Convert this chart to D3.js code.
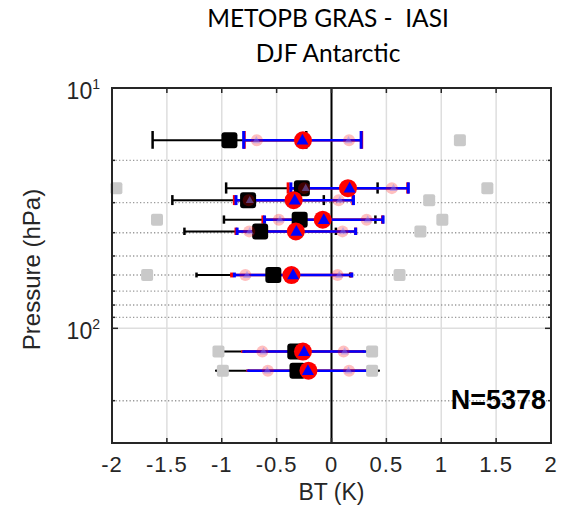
<!DOCTYPE html>
<html>
<head>
<meta charset="utf-8">
<script src="https://cdn.jsdelivr.net/npm/d3@7"></script>
<style>
  html, body { margin: 0; padding: 0; background: #fff; }
  svg { display: block; }
</style>
</head>
<body>
<svg id="chart" width="567" height="507"></svg>
<script>
// ---------------- data ----------------
const titleLines = ["METOPB GRAS -  IASI", "DJF Antarctic"];
const xTicks = [-2, -1.5, -1, -0.5, 0, 0.5, 1, 1.5, 2];
const yMajorTicks = [10, 100];
const yMinorTicks = [20, 30, 40, 50, 60, 70, 80, 90, 200];
const pressure  = [16.5, 26.1, 29.3, 35.3, 39.5, 60, 125, 150];
// black squares (mean), black error bars, grey squares (mean +/- spread)
const blackMean = [-0.93, -0.27, -0.76, -0.29, -0.65, -0.53, -0.33, -0.31];
const blackErr  = [0.70, 0.69, 0.69, 0.69, 0.69, 0.70, 0.72, 0.74];
const blackSd   = [2.10, 1.69, 1.65, 1.30, 1.46, 1.15, 0.70, 0.68];
// red circles
const redMean = [-0.26, 0.15, -0.345, -0.08, -0.325, -0.365, -0.26, -0.21];
const redErr  = [0.535, 0.545, 0.54, 0.545, 0.545, 0.545, 0.55, 0.555];
const redSd   = [0.42, 0.40, 0.41, 0.40, 0.425, 0.42, 0.37, 0.37];
// blue triangles
const blueMean = [-0.265, 0.165, -0.335, -0.07, -0.32, -0.35, -0.25, -0.215];
const blueErr  = [0.535, 0.535, 0.535, 0.54, 0.54, 0.535, 0.55, 0.545];
const blueSd   = [0.42, 0.40, 0.41, 0.40, 0.425, 0.42, 0.37, 0.37];
const nLabel = "N=5378";

// ---------------- layout ----------------
const L = 112, R = 551, T = 88, B = 443;
const svg = d3.select("#chart");
const x = d3.scaleLinear().domain([-2, 2]).range([L, R]);
const y = d3.scaleLog().domain([10, 300]).range([T, B]);
const capDelta = 1.4; // cap half-height in hPa (data units)

const rows = pressure.map((p, i) => ({
  p, bm: blackMean[i], be: blackErr[i], bs: blackSd[i],
  rm: redMean[i], re: redErr[i], rs: redSd[i],
  um: blueMean[i], ue: blueErr[i], us: blueSd[i]
}));

const tickFont = "'Liberation Sans', Arial, Helvetica, sans-serif";

// grid
const grid = svg.append("g");
grid.selectAll("line.vg").data(xTicks.slice(1, -1)).enter().append("line")
  .attr("x1", d => x(d)).attr("x2", d => x(d)).attr("y1", T).attr("y2", B)
  .attr("stroke", "#dedede").attr("stroke-width", 1.5);
grid.selectAll("line.hg").data([100]).enter().append("line")
  .attr("x1", L).attr("x2", R).attr("y1", d => y(d)).attr("y2", d => y(d))
  .attr("stroke", "#dedede").attr("stroke-width", 1.5);
grid.selectAll("line.mg").data(yMinorTicks).enter().append("line")
  .attr("x1", L).attr("x2", R).attr("y1", d => y(d)).attr("y2", d => y(d))
  .attr("stroke", "#9a9a9a").attr("stroke-width", 1.4)
  .attr("stroke-dasharray", "1.3,2.2");

// zero line
svg.append("line").attr("x1", x(0)).attr("x2", x(0)).attr("y1", T).attr("y2", B)
  .attr("stroke", "#000").attr("stroke-width", 2);

// ---------------- marks ----------------
const marks = svg.append("g");
function errbar(g, mean, err, p, color, lw, cw) {
  const yc = y(p), y1 = y(p - capDelta), y2 = y(p + capDelta);
  g.append("line").attr("x1", x(mean - err)).attr("x2", x(mean + err))
    .attr("y1", yc).attr("y2", yc).attr("stroke", color).attr("stroke-width", lw);
  [mean - err, mean + err].forEach(v => {
    g.append("line").attr("x1", x(v)).attr("x2", x(v)).attr("y1", y1).attr("y2", y2)
      .attr("stroke", color).attr("stroke-width", cw);
  });
}
// error bars
rows.forEach(r => {
  errbar(marks, r.bm, r.be, r.p, "#000", 2, 2.5);
});
rows.forEach(r => {
  errbar(marks, r.rm, r.re, r.p, "#ff0000", 2.5, 3);
  errbar(marks, r.um, r.ue, r.p, "#0000ff", 2.5, 3);
});

const tri = (cx, cy, s) => {
  const h = s * 0.9;
  return `M${cx},${cy - h * 0.6} L${cx + s / 2},${cy + h * 0.4} L${cx - s / 2},${cy + h * 0.4} Z`;
};

// grey spread squares
const gs = 12;
rows.forEach(r => {
  [r.bm - r.bs, r.bm + r.bs].forEach(v => {
    if (v < -2 || v > 2) return;
    marks.append("rect").attr("x", x(v) - gs / 2).attr("y", y(r.p) - gs / 2)
      .attr("width", gs).attr("height", gs).attr("rx", 2)
      .attr("fill", "#c9c9c9");
  });
});
// black squares
const bs = 16;
rows.forEach(r => {
  marks.append("rect").attr("x", x(r.bm) - bs / 2).attr("y", y(r.p) - bs / 2)
    .attr("width", bs).attr("height", bs).attr("rx", 3).attr("fill", "#000");
});
// faint red circles / blue triangles at mean +/- spread
rows.forEach(r => {
  [r.rm - r.rs, r.rm + r.rs].forEach(v => {
    marks.append("circle").attr("cx", x(v)).attr("cy", y(r.p)).attr("r", 6)
      .attr("fill", "#ff0000").attr("fill-opacity", 0.25);
  });
  [r.um - r.us, r.um + r.us].forEach(v => {
    marks.append("path").attr("d", tri(x(v), y(r.p), 8))
      .attr("fill", "#8080ff").attr("fill-opacity", 0.45);
  });
});
// red circles + blue triangles
rows.forEach(r => {
  marks.append("circle").attr("cx", x(r.rm)).attr("cy", y(r.p)).attr("r", 9)
    .attr("fill", "#ff0000");
});
rows.forEach(r => {
  marks.append("path").attr("d", tri(x(r.um), y(r.p), 12)).attr("fill", "#0000ff");
});

// ---------------- axes box & ticks ----------------
const ax = svg.append("g").attr("stroke", "#262626");
xTicks.forEach(v => {
  ax.append("line").attr("x1", x(v)).attr("x2", x(v)).attr("y1", B).attr("y2", B - 5).attr("stroke-width", 1.5);
  ax.append("line").attr("x1", x(v)).attr("x2", x(v)).attr("y1", T).attr("y2", T + 5).attr("stroke-width", 1.5);
});
yMajorTicks.forEach(v => {
  ax.append("line").attr("x1", L).attr("x2", L + 6).attr("y1", y(v)).attr("y2", y(v)).attr("stroke-width", 1.5);
  ax.append("line").attr("x1", R).attr("x2", R - 6).attr("y1", y(v)).attr("y2", y(v)).attr("stroke-width", 1.5);
});
yMinorTicks.forEach(v => {
  ax.append("line").attr("x1", L).attr("x2", L + 3).attr("y1", y(v)).attr("y2", y(v)).attr("stroke-width", 1.5);
  ax.append("line").attr("x1", R).attr("x2", R - 3).attr("y1", y(v)).attr("y2", y(v)).attr("stroke-width", 1.5);
});
svg.append("rect").attr("x", L).attr("y", T).attr("width", R - L).attr("height", B - T)
  .attr("fill", "none").attr("stroke", "#262626").attr("stroke-width", 2);

// x tick labels
svg.append("g").selectAll("text").data(xTicks).enter().append("text")
  .attr("x", d => x(d)).attr("y", 472)
  .attr("text-anchor", "middle")
  .attr("font-family", tickFont).attr("font-size", 22).attr("letter-spacing", 1)
  .attr("fill", "#262626")
  .text(d => String(d));

// y tick labels (10^n)
yMajorTicks.forEach(v => {
  const t = svg.append("text").attr("x", 100).attr("y", y(v) + 11)
    .attr("text-anchor", "end").attr("font-family", tickFont).attr("font-size", 23)
    .attr("fill", "#262626");
  t.append("tspan").text("10");
  t.append("tspan").attr("font-size", 14).attr("dy", -10).text(String(Math.round(Math.log10(v))));
});

// axis labels
svg.append("text").attr("x", x(0)).attr("y", 500).attr("text-anchor", "middle")
  .attr("font-family", tickFont).attr("font-size", 23).attr("fill", "#262626").text("BT (K)");
svg.append("text").attr("transform", `translate(40,${(T + B) / 2 + 4}) rotate(-90)`)
  .attr("text-anchor", "middle")
  .attr("font-family", tickFont).attr("font-size", 24).attr("fill", "#262626").text("Pressure (hPa)");

// title
titleLines.forEach((s, i) => {
  svg.append("text").attr("x", 328).attr("y", 27 + i * 35).attr("text-anchor", "middle")
    .attr("font-family", "Lato, 'Open Sans', sans-serif").attr("font-size", 24.5)
    .attr("fill", "#000").attr("xml:space", "preserve").style("white-space", "pre").text(s);
});

// N label
svg.append("text").attr("x", 546).attr("y", 409).attr("text-anchor", "end")
  .attr("font-family", tickFont).attr("font-weight", "bold").attr("font-size", 27)
  .attr("fill", "#000").text(nLabel);
</script>
</body>
</html>
